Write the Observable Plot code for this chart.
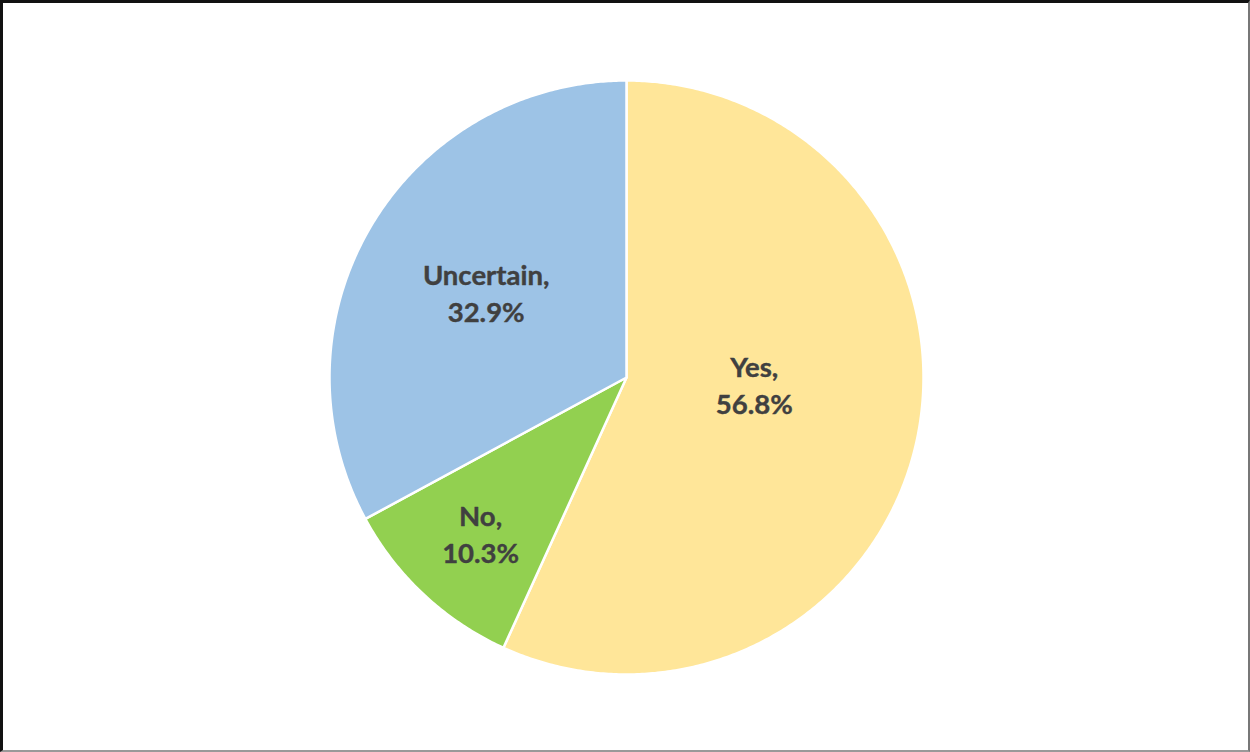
<!DOCTYPE html>
<html>
<head>
<meta charset="utf-8">
<script src="https://cdn.jsdelivr.net/npm/d3@7"></script>
<script src="https://cdn.jsdelivr.net/npm/@observablehq/plot@0.6"></script>
<style>
  html, body { margin: 0; padding: 0; background: #fff; overflow: hidden; }
  #wrap { position: relative; width: 1250px; height: 752px; }
  #chart { position: absolute; left: 0; top: 0; }
  #frame { position: absolute; left: 0; top: 0; width: 1250px; height: 752px; box-sizing: border-box;
           border-top: 3px solid #111; border-left: 3px solid #111; border-right: 2px solid #777; border-bottom: 2px solid #999;
           pointer-events: none; }
</style>
</head>
<body>
<div id="wrap"><div id="chart"></div><div id="frame"></div></div>
<script>
// ---- data ----
const categories = ["Yes", "No", "Uncertain"];
const values = [56.8, 10.3, 32.9];
const colors = ["#FFE699", "#92D050", "#9DC3E6"];

// ---- layout (pixels) ----
const W = 1250, H = 752, CX = 626, CY = 377, R = 297;
// label placement: fraction of radius along mid-angle, plus vertical nudge in radius units
const labelRadius = {Yes: 0.44, No: 0.72, Uncertain: 0.55};
const labelNudgeY = {Yes: 0.073, No: 0.004, Uncertain: 0.007};

const pie = d3.pie().sort(null).value(d => d.value);
const table = categories.map((c, i) => ({category: c, value: values[i], color: colors[i]}));
const arcs = pie(table);

// polygon vertices of each slice (angles clockwise from 12 o'clock), unit radius
const slicePts = [];
arcs.forEach(a => {
  const key = a.data.category;
  slicePts.push({key, x: 0, y: 0});
  const n = Math.max(2, Math.ceil((a.endAngle - a.startAngle) / (Math.PI / 360)));
  for (let k = 0; k <= n; k++) {
    const t = a.startAngle + (a.endAngle - a.startAngle) * k / n;
    slicePts.push({key, x: Math.sin(t), y: Math.cos(t)});
  }
});

const labels = arcs.map(a => {
  const key = a.data.category;
  const m = (a.startAngle + a.endAngle) / 2;
  const r = labelRadius[key];
  return {key, x: r * Math.sin(m), y: r * Math.cos(m) + labelNudgeY[key],
          text: `${key},\n${a.data.value.toFixed(1)}%`};
});

const chart = Plot.plot({
  width: W, height: H, margin: 0,
  x: {domain: [-CX / R, (W - CX) / R], axis: null},
  y: {domain: [-(H - CY) / R, CY / R], axis: null},
  color: {domain: categories, range: colors},
  style: {background: "transparent"},
  marks: [
    Plot.line(slicePts, {x: "x", y: "y", z: "key", fill: "key", stroke: "#fff", strokeWidth: 2.5,
                         curve: "linear-closed", strokeLinejoin: "round"}),
    Plot.text(labels, {x: "x", y: "y", text: "text", fill: "#404040", fontSize: 27.5, fontWeight: "bold",
                       fontFamily: "Lato, 'Open Sans', sans-serif", lineHeight: 1.34, textAnchor: "middle",
                       stroke: "#404040", strokeWidth: 0.4})
  ]
});
document.getElementById("chart").appendChild(chart);
</script>
</body>
</html>
